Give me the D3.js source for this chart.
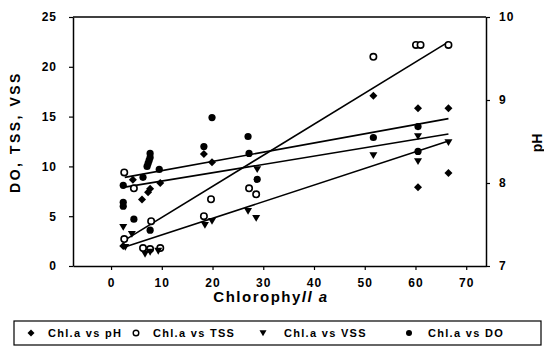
<!DOCTYPE html>
<html>
<head>
<meta charset="utf-8">
<script src="https://cdn.jsdelivr.net/npm/d3@7"></script>
<style>
  html, body { margin: 0; padding: 0; background: #fff; }
  svg { display: block; font-family: "Liberation Sans", Arial, sans-serif; }
</style>
</head>
<body>
<svg id="chart" width="544" height="354"></svg>
<script>
// ---------- data ----------
const xTicks = [0, 10, 20, 30, 40, 50, 60, 70];
const yLeftTicks = [0, 5, 10, 15, 20, 25];
const yRightTicks = [7, 8, 9, 10];

const phChl = [2.4, 4.3, 6.1, 7.3, 7.7, 9.7, 18.3, 19.9, 51.7, 60.5, 60.5, 66.5, 66.5];
const phVal = [7.24, 8.04, 7.80, 7.89, 7.93, 8.00, 8.35, 8.25, 9.05, 8.90, 7.95, 8.90, 8.12];

const tssChl = [2.6, 4.5, 2.6, 7.9, 6.3, 7.7, 9.7, 18.3, 19.7, 27.2, 28.6, 51.7, 60.1, 61.0, 66.5];
const tssVal = [9.4, 7.8, 2.7, 4.5, 1.8, 1.7, 1.8, 5.0, 6.7, 7.8, 7.2, 21.0, 22.2, 22.2, 22.2];

const vssChl = [2.4, 4.1, 2.8, 6.7, 7.7, 9.3, 18.5, 19.9, 27.0, 28.6, 28.8, 51.7, 60.5, 60.5, 66.5];
const vssVal = [3.9, 3.2, 1.9, 1.2, 1.4, 1.5, 4.1, 4.5, 5.5, 4.8, 9.7, 11.1, 13.0, 10.5, 12.4];

const doChl = [7.7, 7.7, 7.5, 7.3, 7.1, 9.5, 6.3, 2.4, 2.4, 2.4, 4.5, 7.7, 19.9, 18.3, 27.0, 27.2, 28.8, 51.7, 60.5, 60.5];
const doVal = [11.3, 10.9, 10.6, 10.3, 10.0, 9.7, 8.9, 8.1, 6.4, 6.0, 4.7, 3.6, 14.9, 12.0, 13.0, 11.3, 8.7, 12.9, 14.0, 11.5];

// trend lines (start / end values)
const trendChl = [2.7, 66.5];
const tssTrend = [2.6, 22.5];
const doTrend = [8.9, 14.8];
const vssTrend = [1.9, 12.55];
const phTrend = [7.95, 8.59];

const legendLabels = ["Chl.a vs pH", "Chl.a vs TSS", "Chl.a vs VSS", "Chl.a vs DO"];

// ---------- layout ----------
const svg = d3.select("#chart");
const L = 73, R = 486, T = 17, B = 266;

const x = d3.scaleLinear().domain([-7.5, 73.9]).range([L, R]);
const yL = d3.scaleLinear().domain([0, 25]).range([B, T]);
const yR = d3.scaleLinear().domain([7, 10]).range([B, T]);

svg.append("rect").attr("width", 544).attr("height", 354).attr("fill", "#fff");

// frame top
svg.append("line").attr("x1", L).attr("x2", R).attr("y1", T).attr("y2", T)
  .attr("stroke", "#000").attr("stroke-width", 1.5);

function styleAxis(g) {
  g.select(".domain").attr("stroke", "#000").attr("stroke-width", 1.5);
  g.selectAll(".tick line").attr("stroke", "#000").attr("stroke-width", 1.2);
  g.selectAll(".tick text").attr("fill", "#000")
    .style("font-size", "12px").style("font-weight", "bold").style("letter-spacing", "1px");
}

svg.append("g").attr("transform", `translate(0,${B})`)
  .call(d3.axisBottom(x).tickValues(xTicks).tickSize(4).tickPadding(8).tickSizeOuter(0))
  .call(styleAxis);

svg.append("g").attr("transform", `translate(${L},0)`)
  .call(d3.axisLeft(yL).tickValues(yLeftTicks).tickSize(4).tickPadding(12).tickSizeOuter(0))
  .call(styleAxis);

svg.append("g").attr("transform", `translate(${R},0)`)
  .call(d3.axisRight(yR).tickValues(yRightTicks).tickFormat(d3.format("d"))
    .tickSize(4).tickPadding(9).tickSizeOuter(0))
  .call(styleAxis);

// axis titles
svg.append("text")
  .attr("transform", `translate(20,132) rotate(-90)`)
  .attr("text-anchor", "middle")
  .style("font-size", "14px").style("font-weight", "bold").style("letter-spacing", "2.5px")
  .text("DO, TSS, VSS");

const xt = svg.append("text")
  .attr("x", 271).attr("y", 302)
  .attr("text-anchor", "middle")
  .style("font-size", "15px").style("font-weight", "bold").style("letter-spacing", "1.5px");
xt.append("tspan").text("Chlorophy");
xt.append("tspan").style("font-style", "italic").text("ll a");

svg.append("text")
  .attr("transform", `translate(542,143) rotate(-90)`)
  .attr("text-anchor", "middle")
  .style("font-size", "14px").style("font-weight", "bold")
  .text("pH");

// ---------- trend lines ----------
const lineG = svg.append("g").attr("stroke", "#000").attr("stroke-width", 1.6).attr("fill", "none");
function trend(vals, ys) {
  lineG.append("line")
    .attr("x1", x(trendChl[0])).attr("y1", ys(vals[0]))
    .attr("x2", x(trendChl[1])).attr("y2", ys(vals[1]));
}
trend(tssTrend, yL);
trend(doTrend, yL);
trend(vssTrend, yL);
trend(phTrend, yR);

// ---------- markers ----------
const diamond = (cx, cy, s = 4) => `M${cx},${cy - s}L${cx + s},${cy}L${cx},${cy + s}L${cx - s},${cy}Z`;
const triDown = (cx, cy, s = 4) => `M${cx - s},${cy - s * 0.8}L${cx + s},${cy - s * 0.8}L${cx},${cy + s * 0.9}Z`;

const mk = svg.append("g");
mk.selectAll(".ph").data(d3.range(phChl.length)).join("path")
  .attr("d", i => diamond(x(phChl[i]), yR(phVal[i])))
  .attr("fill", "#000");

mk.selectAll(".tss").data(d3.range(tssChl.length)).join("circle")
  .attr("cx", i => x(tssChl[i])).attr("cy", i => yL(tssVal[i])).attr("r", 3.2)
  .attr("fill", "#fff").attr("stroke", "#000").attr("stroke-width", 1.6);

mk.selectAll(".vss").data(d3.range(vssChl.length)).join("path")
  .attr("d", i => triDown(x(vssChl[i]), yL(vssVal[i])))
  .attr("fill", "#000");

mk.selectAll(".do").data(d3.range(doChl.length)).join("circle")
  .attr("cx", i => x(doChl[i])).attr("cy", i => yL(doVal[i])).attr("r", 3.6)
  .attr("fill", "#000");

// ---------- legend ----------
const lg = svg.append("g");
lg.append("rect").attr("x", 14).attr("y", 321).attr("width", 527).attr("height", 24)
  .attr("fill", "#fff").attr("stroke", "#000").attr("stroke-width", 1.2);
const ly = 333;
const symX = [31, 136, 263, 409];
const txtX = [48, 153, 284, 428];
lg.append("path").attr("d", diamond(symX[0], ly, 3.5)).attr("fill", "#000");
lg.append("circle").attr("cx", symX[1]).attr("cy", ly).attr("r", 2.8)
  .attr("fill", "#fff").attr("stroke", "#000").attr("stroke-width", 1.4);
lg.append("path").attr("d", triDown(symX[2], ly, 3.5)).attr("fill", "#000");
lg.append("circle").attr("cx", symX[3]).attr("cy", ly).attr("r", 3).attr("fill", "#000");
lg.selectAll(".lt").data(legendLabels).join("text")
  .attr("x", (d, i) => txtX[i]).attr("y", ly + 4)
  .style("font-size", "11px").style("font-weight", "bold").style("letter-spacing", "1.3px")
  .text(d => d);
</script>
</body>
</html>
